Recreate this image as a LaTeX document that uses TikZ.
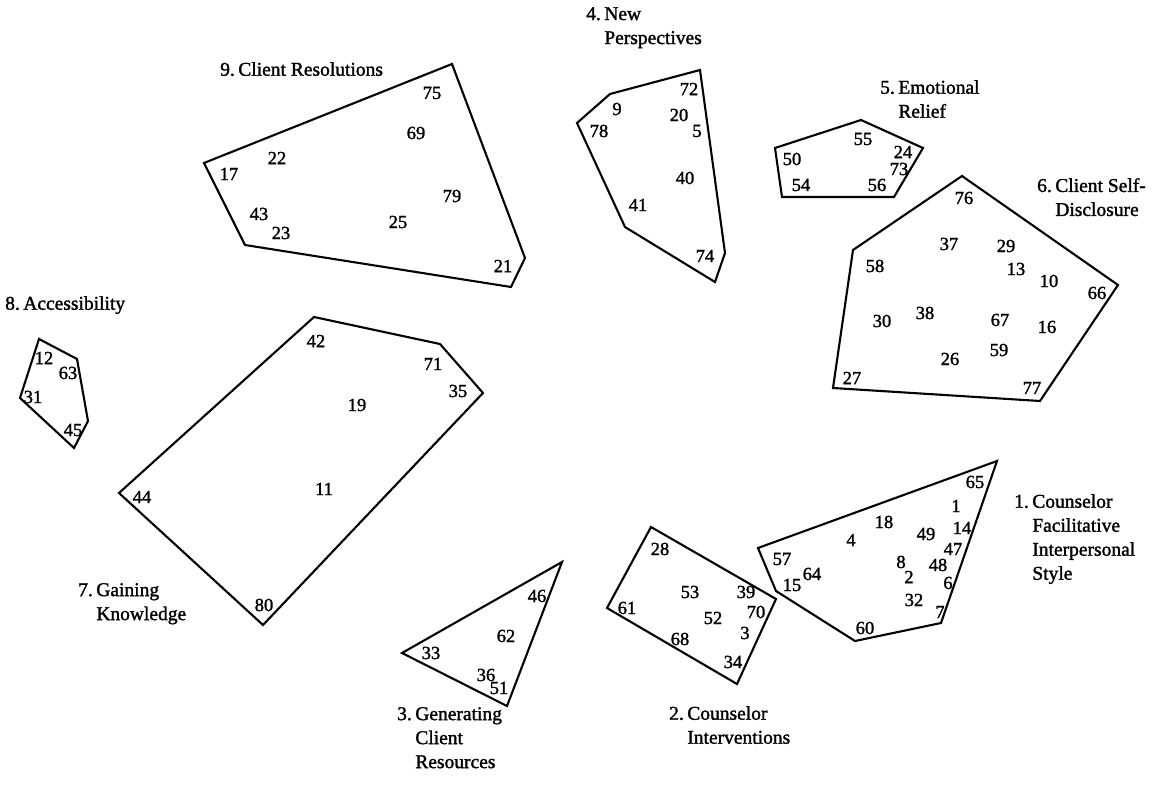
\documentclass[tikz,border=0pt]{standalone}
\usepackage{fontspec}
\setmainfont{Liberation Serif}
\newfontfamily\darkserif{Liberation Serif}[FakeBold=1.5]
\newcommand{\hg}[1]{\phantom{#1}}
\newcommand{\nsp}{\hspace{0.18em}}
\begin{document}
\begin{tikzpicture}[x=1pt,y=-1pt,
  poly/.style={line width=2.1pt, line join=miter},
  num/.style={font=\darkserif\fontsize{18.5}{20}\selectfont, inner sep=0pt},
  ttl/.style={font=\darkserif\fontsize{19.5}{24}\selectfont, align=left, anchor=north west, inner sep=0pt}]
\useasboundingbox (0,0) rectangle (1168,789);
\fill[white] (0,0) rectangle (1168,789);

% ---------- Cluster 9: Client Resolutions
\coordinate (c9a) at (204,163);
\coordinate (c9b) at (452,64);
\coordinate (c9c) at (525,258);
\coordinate (c9d) at (511,287);
\coordinate (c9e) at (245,245);
\draw[poly] (c9a) -- (c9b) -- (c9c) -- (c9d) -- (c9e) -- cycle;
\node[ttl] (t9) at (220,62) {9.\nsp Client Resolutions};
\node[num] (n75) at (432,93) {75};
\node[num] (n69) at (416,133) {69};
\node[num] (n22) at (277,158) {22};
\node[num] (n17) at (229,174) {17};
\node[num] (n79) at (452,196) {79};
\node[num] (n43) at (259,214) {43};
\node[num] (n23) at (281,233) {23};
\node[num] (n25) at (398,222) {25};
\node[num] (n21) at (503,266) {21};

% ---------- Cluster 4: New Perspectives
\coordinate (c4a) at (577,123);
\coordinate (c4b) at (610,94);
\coordinate (c4c) at (700,70);
\coordinate (c4d) at (725,253);
\coordinate (c4e) at (715,282);
\coordinate (c4f) at (625,227);
\draw[poly] (c4a) -- (c4b) -- (c4c) -- (c4d) -- (c4e) -- (c4f) -- cycle;
\node[ttl] (t4) at (586,7) {4.\nsp New\\\hg{4.\nsp}Perspectives};
\node[num] (n72) at (689,89) {72};
\node[num] (n9) at (617,109) {9};
\node[num] (n20) at (679,115) {20};
\node[num] (n78) at (599,131) {78};
\node[num] (n5) at (697,131) {5};
\node[num] (n40) at (685,178) {40};
\node[num] (n41) at (638,205) {41};
\node[num] (n74) at (705,256) {74};

% ---------- Cluster 5: Emotional Relief
\coordinate (c5a) at (775,148);
\coordinate (c5b) at (861,120);
\coordinate (c5c) at (923,148);
\coordinate (c5d) at (894,197);
\coordinate (c5e) at (782,197);
\draw[poly] (c5a) -- (c5b) -- (c5c) -- (c5d) -- (c5e) -- cycle;
\node[ttl] (t5) at (880,80) {5.\nsp Emotional\\\hg{5.\nsp}Relief};
\node[num] (n55) at (863,139) {55};
\node[num] (n50) at (792,159) {50};
\node[num] (n24) at (903,152) {24};
\node[num] (n73) at (899,169) {73};
\node[num] (n54) at (801,185) {54};
\node[num] (n56) at (877,185) {56};

% ---------- Cluster 6: Client Self-Disclosure
\coordinate (c6a) at (962,176);
\coordinate (c6b) at (1118,285);
\coordinate (c6c) at (1040,401);
\coordinate (c6d) at (833,388);
\coordinate (c6e) at (853,250);
\draw[poly] (c6a) -- (c6b) -- (c6c) -- (c6d) -- (c6e) -- cycle;
\node[ttl] (t6) at (1037,178) {6.\nsp Client Self-\\\hg{6.\nsp}Disclosure};
\node[num] (n76) at (964,198) {76};
\node[num] (n37) at (949,244) {37};
\node[num] (n29) at (1006,246) {29};
\node[num] (n58) at (875,266) {58};
\node[num] (n13) at (1016,269) {13};
\node[num] (n10) at (1049,281) {10};
\node[num] (n66) at (1097,293) {66};
\node[num] (n30) at (882,321) {30};
\node[num] (n38) at (925,313) {38};
\node[num] (n67) at (1000,320) {67};
\node[num] (n16) at (1047,327) {16};
\node[num] (n59) at (999,350) {59};
\node[num] (n26) at (950,359) {26};
\node[num] (n27) at (852,378) {27};
\node[num] (n77) at (1032,388) {77};

% ---------- Cluster 8: Accessibility
\coordinate (c8a) at (39,339);
\coordinate (c8b) at (77,359);
\coordinate (c8c) at (88,421);
\coordinate (c8d) at (74,448);
\coordinate (c8e) at (20,398);
\draw[poly] (c8a) -- (c8b) -- (c8c) -- (c8d) -- (c8e) -- cycle;
\node[ttl] (t8) at (5,296) {8.\nsp Accessibility};
\node[num] (n12) at (44,358) {12};
\node[num] (n63) at (68,373) {63};
\node[num] (n31) at (33,397) {31};
\node[num] (n45) at (73,430) {45};

% ---------- Cluster 7: Gaining Knowledge
\coordinate (c7a) at (314,317);
\coordinate (c7b) at (440,344);
\coordinate (c7c) at (483,393);
\coordinate (c7d) at (263,625);
\coordinate (c7e) at (119,493);
\draw[poly] (c7a) -- (c7b) -- (c7c) -- (c7d) -- (c7e) -- cycle;
\node[ttl] (t7) at (78,583) {7.\nsp Gaining\\\hg{7.\nsp}Knowledge};
\node[num] (n42) at (316,341) {42};
\node[num] (n71) at (433,364) {71};
\node[num] (n35) at (458,391) {35};
\node[num] (n19) at (357,405) {19};
\node[num] (n11) at (324,489) {11};
\node[num] (n44) at (142,497) {44};
\node[num] (n80) at (264,605) {80};

% ---------- Cluster 3: Generating Client Resources
\coordinate (c3a) at (402,653);
\coordinate (c3b) at (562,562);
\coordinate (c3c) at (507,706);
\draw[poly] (c3a) -- (c3b) -- (c3c) -- cycle;
\node[ttl] (t3) at (397,707) {3.\nsp Generating\\\hg{3.\nsp}Client\\\hg{3.\nsp}Resources};
\node[num] (n46) at (537,596) {46};
\node[num] (n62) at (506,636) {62};
\node[num] (n33) at (431,653) {33};
\node[num] (n36) at (486,675) {36};
\node[num] (n51) at (499,688) {51};

% ---------- Cluster 2: Counselor Interventions
\coordinate (c2a) at (651,527);
\coordinate (c2b) at (776,599);
\coordinate (c2c) at (737,684);
\coordinate (c2d) at (607,608);
\draw[poly] (c2a) -- (c2b) -- (c2c) -- (c2d) -- cycle;
\node[ttl] (t2) at (669,706) {2.\nsp Counselor\\\hg{2.\nsp}Interventions};
\node[num] (n28) at (660,549) {28};
\node[num] (n53) at (690,592) {53};
\node[num] (n39) at (746,592) {39};
\node[num] (n61) at (627,608) {61};
\node[num] (n70) at (756,612) {70};
\node[num] (n52) at (713,618) {52};
\node[num] (n3) at (745,633) {3};
\node[num] (n68) at (680,639) {68};
\node[num] (n34) at (733,662) {34};

% ---------- Cluster 1: Counselor Facilitative Interpersonal Style
\coordinate (c1a) at (758,548);
\coordinate (c1b) at (997,461);
\coordinate (c1c) at (941,623);
\coordinate (c1d) at (855,641);
\coordinate (c1e) at (776,591);
\draw[poly] (c1a) -- (c1b) -- (c1c) -- (c1d) -- (c1e) -- cycle;
\node[ttl] (t1) at (1014,494) {1.\nsp Counselor\\\hg{1.\nsp}Facilitative\\\hg{1.\nsp}Interpersonal\\\hg{1.\nsp}Style};
\node[num] (n65) at (975,482) {65};
\node[num] (n1) at (956,506) {1};
\node[num] (n18) at (884,522) {18};
\node[num] (n14) at (962,528) {14};
\node[num] (n4) at (851,540) {4};
\node[num] (n49) at (926,534) {49};
\node[num] (n47) at (953,549) {47};
\node[num] (n57) at (782,559) {57};
\node[num] (n8) at (901,562) {8};
\node[num] (n48) at (938,565) {48};
\node[num] (n64) at (812,574) {64};
\node[num] (n2) at (909,577) {2};
\node[num] (n15) at (792,585) {15};
\node[num] (n6) at (948,583) {6};
\node[num] (n32) at (914,600) {32};
\node[num] (n7) at (940,612) {7};
\node[num] (n60) at (865,628) {60};
\end{tikzpicture}
\end{document}
